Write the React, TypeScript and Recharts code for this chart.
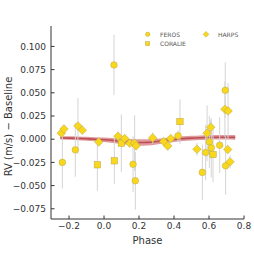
import {
  ComposedChart,
  Scatter,
  Area,
  Line,
  XAxis,
  YAxis,
  ErrorBar,
} from "recharts";

// FEROS
const ferosPhase = [-0.238, -0.164, 0.057, 0.166, 0.179, 0.423, 0.562, 0.581, 0.602, 0.613, 0.661, 0.693, 0.695];
const ferosRv = [-0.025, -0.0115, 0.08, -0.027, -0.0448, 0.0036, -0.0358, -0.0143, -0.0029, -0.0093, -0.0065, 0.0527, -0.0287];
const ferosErr = [0.028, 0.029, 0.0325, 0.03, 0.031, 0.006, 0.03, 0.03, 0.028, 0.032, 0.03, 0.03, 0.031];

// CORALIE
const coraliePhase = [-0.038, 0.059, 0.099, 0.434, 0.623];
const coralieRv = [-0.0276, -0.0233, -0.0043, 0.019, -0.0165];
const coralieErr = [0.028, 0.025, 0.031, 0.024, 0.03];

// HARPS
const harpsPhase = [-0.244, -0.229, -0.149, -0.124, -0.03, 0.08, 0.118, 0.147, 0.175, 0.183, 0.278, 0.341, 0.364, 0.381, 0.531, 0.589, 0.61, 0.691, 0.709, 0.707, 0.72];
const harpsRv = [0.0065, 0.011, 0.0143, 0.0097, -0.003, 0.0032, 0.0007, -0.0043, -0.0043, -0.0072, 0.0014, -0.0025, -0.0072, 0.0007, -0.0108, 0.0065, 0.0129, 0.0323, 0.0305, -0.0111, -0.0244];
const harpsErr = [0.004, 0.005, 0.03, 0.004, 0.004, 0.005, 0.004, 0.004, 0.03, 0.004, 0.006, 0.004, 0.005, 0.003, 0.007, 0.03, 0.008, 0.03, 0.03, 0.005, 0.007];

// model band
const modelPhase = [-0.25, -0.2, -0.15, -0.1, -0.05, 0, 0.05, 0.1, 0.15, 0.2, 0.25, 0.3, 0.35, 0.4, 0.45, 0.5, 0.55, 0.6, 0.65, 0.7, 0.75];
const modelRv = [0.0015, 0.0012, 0.0009, 0.0005, 0.0, -0.0006, -0.0013, -0.0022, -0.0031, -0.0036, -0.0034, -0.0025, -0.0014, -0.0003, 0.0006, 0.0012, 0.0016, 0.0019, 0.0021, 0.0021, 0.002];
const modelHalf = [0.0018, 0.0019, 0.002, 0.0021, 0.0022, 0.0024, 0.0027, 0.003, 0.0033, 0.0035, 0.0034, 0.0031, 0.0028, 0.0026, 0.0025, 0.0025, 0.0025, 0.0025, 0.0025, 0.0025, 0.0025];

const xTicks = [-0.2, 0, 0.2, 0.4, 0.6, 0.8];
const yTicks = [-0.075, -0.05, -0.025, 0, 0.025, 0.05, 0.075, 0.1];

const FILL = "#F9D71C";
const EDGE = "#b9a64a";
const FONT = "DejaVu Sans";
const INK = "#333";

const toPoints = (px: number[], py: number[], pe: number[]) =>
  px.map((x, i) => ({ x, y: py[i], err: pe[i] }));

const ferosData = toPoints(ferosPhase, ferosRv, ferosErr);
const coralieData = toPoints(coraliePhase, coralieRv, coralieErr);
const harpsData = toPoints(harpsPhase, harpsRv, harpsErr);

const modelData = modelPhase.map((x, i) => ({
  x,
  mid: modelRv[i],
  band: [modelRv[i] - modelHalf[i], modelRv[i] + modelHalf[i]],
}));

const fmt = (d: number) => (v: number) => {
  const s = Math.abs(v).toFixed(d);
  return v < -1e-9 ? "\u2212" + s : s;
};

const Circle = (p: any) => (
  <circle cx={p.cx} cy={p.cy} r={p.r ?? 3.3} fill={FILL} stroke={EDGE} strokeWidth={0.5} />
);
const Square = (p: any) => {
  const h = p.h ?? 3.2;
  return (
    <rect x={p.cx - h} y={p.cy - h} width={2 * h} height={2 * h} fill={FILL} stroke={EDGE} strokeWidth={0.5} />
  );
};
const Diamond = (p: any) => {
  const h = p.h ?? 4.3;
  return (
    <path
      d={`M${p.cx},${p.cy - h}L${p.cx + h},${p.cy}L${p.cx},${p.cy + h}L${p.cx - h},${p.cy}Z`}
      fill={FILL}
      stroke={EDGE}
      strokeWidth={0.5}
    />
  );
};

const legendText = { fontFamily: FONT, fontSize: 6, fill: "#555" };

export default function App() {
  return (
    <div style={{ position: "absolute", left: 0, top: 0, width: 254, height: 254, background: "#fff" }}>
      <ComposedChart
        width={254}
        height={254}
        data={modelData}
        margin={{ top: 26, right: 10, bottom: 0, left: 0 }}
      >
        <XAxis
          dataKey="x"
          type="number"
          domain={[-0.303, 0.8]}
          allowDataOverflow
          ticks={xTicks}
          tickFormatter={fmt(1)}
          height={35}
          tickSize={-3.5}
          tickMargin={7.4}
          axisLine={{ stroke: INK }}
          tickLine={{ stroke: INK }}
          tick={{ fill: INK, fontSize: 9, fontFamily: FONT }}
          label={{
            value: "Phase",
            position: "insideBottom",
            offset: 10,
            style: { fill: INK, fontSize: 10, fontFamily: FONT },
          }}
        />
        <YAxis
          type="number"
          domain={[-0.086, 0.122]}
          allowDataOverflow
          ticks={yTicks}
          tickFormatter={fmt(3)}
          width={51}
          tickSize={-3.5}
          tickMargin={8.5}
          axisLine={{ stroke: INK }}
          tickLine={{ stroke: INK }}
          tick={{ fill: INK, fontSize: 9, fontFamily: FONT }}
          label={{
            value: "RV (m/s) \u2212 Baseline",
            angle: -90,
            position: "insideLeft",
            offset: 8,
            dy: 4,
            style: { fill: INK, fontSize: 10, fontFamily: FONT, textAnchor: "middle" },
          }}
        />
        <Area
          dataKey="band"
          type="monotone"
          stroke="none"
          fill="#c0393f"
          fillOpacity={0.5}
          isAnimationActive={false}
        />
        <Line
          dataKey="mid"
          type="monotone"
          stroke="#b3343a"
          strokeOpacity={0.75}
          strokeWidth={1.6}
          dot={false}
          isAnimationActive={false}
        />
        <Scatter data={ferosData} dataKey="y" shape={Circle} isAnimationActive={false}>
          <ErrorBar dataKey="err" direction="y" width={0} stroke="#d4d4d4" strokeWidth={1} />
        </Scatter>
        <Scatter data={coralieData} dataKey="y" shape={Square} isAnimationActive={false}>
          <ErrorBar dataKey="err" direction="y" width={0} stroke="#d4d4d4" strokeWidth={1} />
        </Scatter>
        <Scatter data={harpsData} dataKey="y" shape={Diamond} isAnimationActive={false}>
          <ErrorBar dataKey="err" direction="y" width={0} stroke="#d4d4d4" strokeWidth={1} />
        </Scatter>
      </ComposedChart>
      <svg
        width={110}
        height={20}
        style={{ position: "absolute", left: 140, top: 28, overflow: "visible" }}
      >
        <Circle cx={7.7} cy={6.3} r={2.2} />
        <text x={20} y={8.5} style={legendText}>FEROS</text>
        <Square cx={7.7} cy={15.7} h={2} />
        <text x={20} y={17.9} style={legendText}>CORALIE</text>
        <Diamond cx={66} cy={6.3} h={2.9} />
        <text x={78} y={8.5} style={legendText}>HARPS</text>
      </svg>
    </div>
  );
}
